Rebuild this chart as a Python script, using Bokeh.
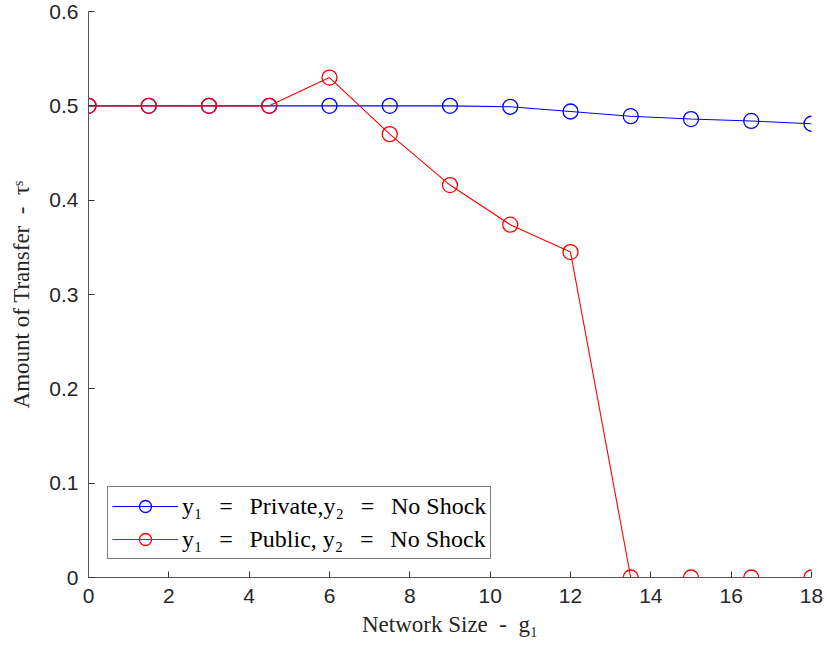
from bokeh.plotting import figure
from bokeh.models import FixedTicker, Legend, LegendItem
from bokeh.embed import file_html
from bokeh.resources import INLINE

network_size = [0, 1.5, 3, 4.5, 6, 7.5, 9, 10.5, 12, 13.5, 15, 16.5, 18]
private_transfer = [0.5, 0.5, 0.5, 0.5, 0.5, 0.5, 0.5, 0.499, 0.494, 0.489, 0.486, 0.484, 0.481]
public_transfer = [0.5, 0.5, 0.5, 0.5, 0.53, 0.47, 0.416, 0.374, 0.345, 0.0, 0.0, 0.0, 0.0]
x_ticks = [0, 2, 4, 6, 8, 10, 12, 14, 16, 18]
y_ticks = [0, 0.1, 0.2, 0.3, 0.4, 0.5, 0.6]
y_tick_labels = ["0", "0.1", "0.2", "0.3", "0.4", "0.5", "0.6"]

p = figure(width=827, height=651, output_backend="svg", toolbar_location=None,
           x_range=(0, 18), y_range=(0, 0.6),
           min_border_left=88, min_border_right=16, min_border_top=11, min_border_bottom=74)
p.outline_line_color = None
p.grid.visible = False
p.background_fill_color = "white"
p.border_fill_color = "white"

for ax in (p.xaxis[0], p.yaxis[0]):
    ax.axis_line_color = "#555555"
    ax.major_tick_line_color = "#333333"
    ax.major_tick_in = 6
    ax.major_tick_out = 0
    ax.minor_tick_line_color = None
    ax.major_label_text_font = "Liberation Sans"
    ax.major_label_text_font_size = "21px"
    ax.major_label_text_color = "#262626"
    ax.axis_label_text_font = "Liberation Serif"
    ax.axis_label_text_font_size = "23px"
    ax.axis_label_text_font_style = "normal"
    ax.axis_label_text_color = "#262626"

p.xaxis.ticker = FixedTicker(ticks=x_ticks)
p.yaxis.ticker = FixedTicker(ticks=y_ticks)
p.yaxis.major_label_overrides = {t: l for t, l in zip(y_ticks, y_tick_labels)}
p.xaxis.axis_label = "Network Size\u2002-\u2002g\u2081"
p.yaxis.axis_label = "Amount of Transfer\u2002-\u2002\u03c4\u02e2"
p.xaxis.major_label_standoff = 11
p.yaxis.major_label_standoff = 10
p.xaxis.axis_label_standoff = 6
p.yaxis.axis_label_standoff = 12

l1 = p.line(network_size, private_transfer, line_color="#0000ff", line_width=1.1)
m1 = p.scatter(network_size, private_transfer, marker="circle", size=15,
               fill_color=None, line_color="#0000ff", line_width=1.3)
l2 = p.line(network_size, public_transfer, line_color="#ff0000", line_width=1.1)
m2 = p.scatter(network_size, public_transfer, marker="circle", size=15,
               fill_color=None, line_color="#ff0000", line_width=1.3)

eq = "\u2002\u2009=\u2009\u2002"
legend = Legend(items=[
    LegendItem(label="y\u2081" + eq + "Private,y\u2082" + eq + "No Shock", renderers=[l1, m1]),
    LegendItem(label="y\u2081" + eq + "Public, y\u2082" + eq + "No Shock", renderers=[l2, m2]),
], location=(19, 18))
legend.label_text_font = "Liberation Serif"
legend.label_text_font_size = "24px"
legend.label_text_color = "black"
legend.glyph_width = 66
legend.glyph_height = 30
legend.label_height = 30
legend.spacing = 3
legend.padding = 4
legend.margin = 0
legend.label_standoff = 4
legend.border_line_color = "black"
legend.border_line_width = 1
legend.background_fill_color = "white"
legend.background_fill_alpha = 1
p.add_layout(legend, "center")

open("out.html", "w").write(file_html(p, INLINE))
